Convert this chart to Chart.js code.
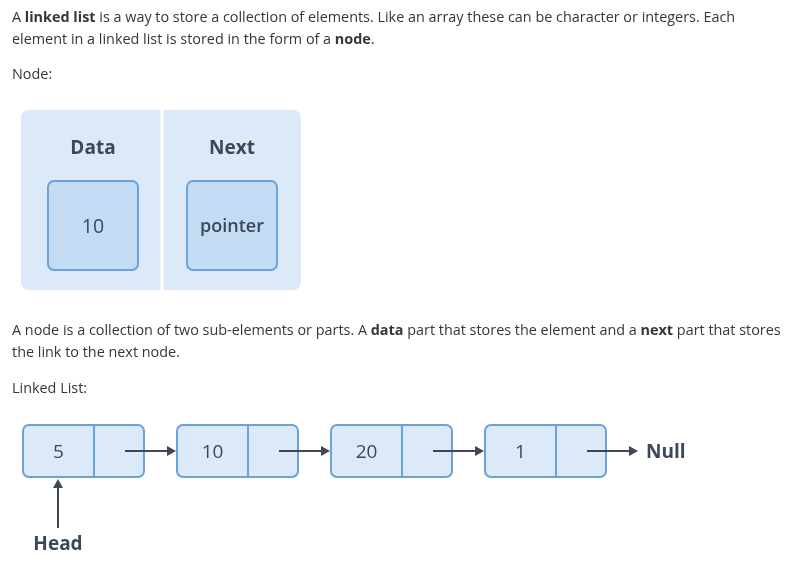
<!DOCTYPE html>
<html>
<head>
<meta charset="utf-8">
<script src="https://cdn.jsdelivr.net/npm/chart.js@4"></script>
<style>
html,body{margin:0;padding:0;background:#fff;}
#wrap{width:790px;height:576px;}
</style>
</head>
<body>
<div id="wrap"><canvas id="c" width="790" height="576"></canvas></div>
<script>
// ---- data ----
const introLines = [
  [["A ",0],["linked list",1],[" is a way to store a collection of elements. Like an array these can be character or integers. Each",0]],
  [["element in a linked list is stored in the form of a ",0],["node",1],[".",0]]
];
const nodeHeading = "Node:";
const nodeFields = ["Data", "Next"];
const nodeContents = ["10", "pointer"];
const partLines = [
  [["A node is a collection of two sub-elements or parts. A ",0],["data",1],[" part that stores the element and a ",0],["next",1],[" part that stores",0]],
  [["the link to the next node.",0]]
];
const listHeading = "Linked List:";
const listValues = ["5", "10", "20", "1"];
const endLabel = "Null";
const headLabel = "Head";

// ---- layout (pixel units on a 790x576 linear grid) ----
const L = {
  textX: 12, introY: [18, 40], nodeHeadY: 75, partY: [331, 353], listHeadY: 389,
  outer: {x0: 21, x1: 301, y0: 110, y1: 290, split: 162},
  fieldY: 148.5, inner: {y0: 181, y1: 270, w: 90, cx: [93, 232]},
  list: {x0: 23, step: 154, w: 121, split: 71, y0: 425, y1: 477},
  head: {x: 58, y0: 528, y1: 479, labelY: 545}
};
const C = {text: "#363636", dark: "#3b4859", arrow: "#3f4754", outerFill: "#dce9f8", innerFill: "#c4dcf3",
  border: "#6ba2d8", listFill: "#dbe9f8"};
const FONT = "'Open Sans', sans-serif";

function rr(ctx, x, y, w, h, r) {
  ctx.beginPath();
  ctx.moveTo(x + r, y);
  ctx.arcTo(x + w, y, x + w, y + h, r);
  ctx.arcTo(x + w, y + h, x, y + h, r);
  ctx.arcTo(x, y + h, x, y, r);
  ctx.arcTo(x, y, x + w, y, r);
  ctx.closePath();
}
function arrow(ctx, x0, y0, x1, y1) {
  const a = Math.atan2(y1 - y0, x1 - x0), hl = 9, hw = 5;
  ctx.strokeStyle = C.arrow; ctx.fillStyle = C.arrow; ctx.lineWidth = 2;
  ctx.beginPath(); ctx.moveTo(x0, y0);
  ctx.lineTo(x1 - Math.cos(a) * hl, y1 - Math.sin(a) * hl); ctx.stroke();
  ctx.beginPath();
  ctx.moveTo(x1, y1);
  ctx.lineTo(x1 - Math.cos(a) * hl - Math.sin(a) * hw, y1 - Math.sin(a) * hl + Math.cos(a) * hw);
  ctx.lineTo(x1 - Math.cos(a) * hl + Math.sin(a) * hw, y1 - Math.sin(a) * hl - Math.cos(a) * hw);
  ctx.closePath(); ctx.fill();
}
function richLine(ctx, X, Y, parts, x, y) {
  let px = X(x);
  ctx.textAlign = "left"; ctx.textBaseline = "middle"; ctx.fillStyle = C.text;
  for (const [t, b] of parts) {
    ctx.font = (b ? "bold " : "") + "14.4px " + FONT;
    ctx.fillText(t, px, Y(y));
    px += ctx.measureText(t).width;
  }
}

const diagram = {
  id: "diagram",
  afterDraw(chart) {
    const ctx = chart.ctx, X = v => chart.scales.x.getPixelForValue(v), Y = v => chart.scales.y.getPixelForValue(v);
    ctx.save();
    introLines.forEach((ln, i) => richLine(ctx, X, Y, ln, L.textX, L.introY[i]));
    richLine(ctx, X, Y, [[nodeHeading, 0]], L.textX, L.nodeHeadY);
    partLines.forEach((ln, i) => richLine(ctx, X, Y, ln, L.textX, L.partY[i]));
    richLine(ctx, X, Y, [[listHeading, 0]], L.textX, L.listHeadY);

    // node diagram
    const o = L.outer;
    ctx.fillStyle = C.outerFill;
    rr(ctx, X(o.x0), Y(o.y0), X(o.x1) - X(o.x0), Y(o.y1) - Y(o.y0), 8); ctx.fill();
    ctx.fillStyle = "#fff"; ctx.fillRect(X(o.split) - 1.5, Y(o.y0), 3, Y(o.y1) - Y(o.y0));
    nodeFields.forEach((f, i) => {
      const cx = L.inner.cx[i];
      ctx.fillStyle = C.dark; ctx.font = "bold 19px " + FONT; ctx.textAlign = "center"; ctx.textBaseline = "middle";
      ctx.fillText(f, X(cx), Y(L.fieldY));
      const x0 = X(cx - L.inner.w / 2), y0 = Y(L.inner.y0);
      rr(ctx, x0, y0, X(cx + L.inner.w / 2) - x0, Y(L.inner.y1) - y0, 6);
      ctx.fillStyle = C.innerFill; ctx.fill();
      ctx.strokeStyle = C.border; ctx.lineWidth = 2; ctx.stroke();
      ctx.fillStyle = C.dark; ctx.font = (i === 0 ? "500 19.5px " : "600 18px ") + FONT;
      ctx.fillText(nodeContents[i], X(cx), Y((L.inner.y0 + L.inner.y1) / 2 + 1.5));
    });

    // linked list
    const l = L.list, my = (l.y0 + l.y1) / 2;
    listValues.forEach((v, i) => {
      const bx = l.x0 + i * l.step;
      const x0 = X(bx), y0 = Y(l.y0);
      rr(ctx, x0, y0, X(bx + l.w) - x0, Y(l.y1) - y0, 6);
      ctx.fillStyle = C.listFill; ctx.fill();
      ctx.strokeStyle = C.border; ctx.lineWidth = 2; ctx.stroke();
      ctx.beginPath(); ctx.moveTo(X(bx + l.split), Y(l.y0)); ctx.lineTo(X(bx + l.split), Y(l.y1)); ctx.stroke();
      ctx.fillStyle = C.dark; ctx.font = "19px " + FONT; ctx.textAlign = "center"; ctx.textBaseline = "middle";
      ctx.fillText(v, X(bx + l.split / 2), Y(my + 1.5));
      arrow(ctx, X(bx + 102), Y(my), X(bx + l.step - 1), Y(my));
    });
    const lastEnd = l.x0 + listValues.length * l.step;
    ctx.fillStyle = C.dark; ctx.font = "bold 19px " + FONT; ctx.textAlign = "left"; ctx.textBaseline = "middle";
    ctx.fillText(endLabel, X(lastEnd + 7), Y(my + 1.5));

    // head
    arrow(ctx, X(L.head.x), Y(L.head.y0), X(L.head.x), Y(L.head.y1));
    ctx.fillStyle = C.dark; ctx.font = "bold 19px " + FONT; ctx.textAlign = "center";
    ctx.fillText(headLabel, X(L.head.x), Y(L.head.labelY));
    ctx.restore();
  }
};

new Chart(document.getElementById("c"), {
  type: "scatter",
  data: {datasets: [{data: [], pointRadius: 0}]},
  options: {
    responsive: false, animation: false, devicePixelRatio: 1,
    layout: {padding: 0},
    plugins: {legend: {display: false}, tooltip: {enabled: false}},
    scales: {
      x: {type: "linear", min: 0, max: 790, display: false},
      y: {type: "linear", min: 0, max: 576, reverse: true, display: false}
    }
  },
  plugins: [diagram]
});
</script>
</body>
</html>
